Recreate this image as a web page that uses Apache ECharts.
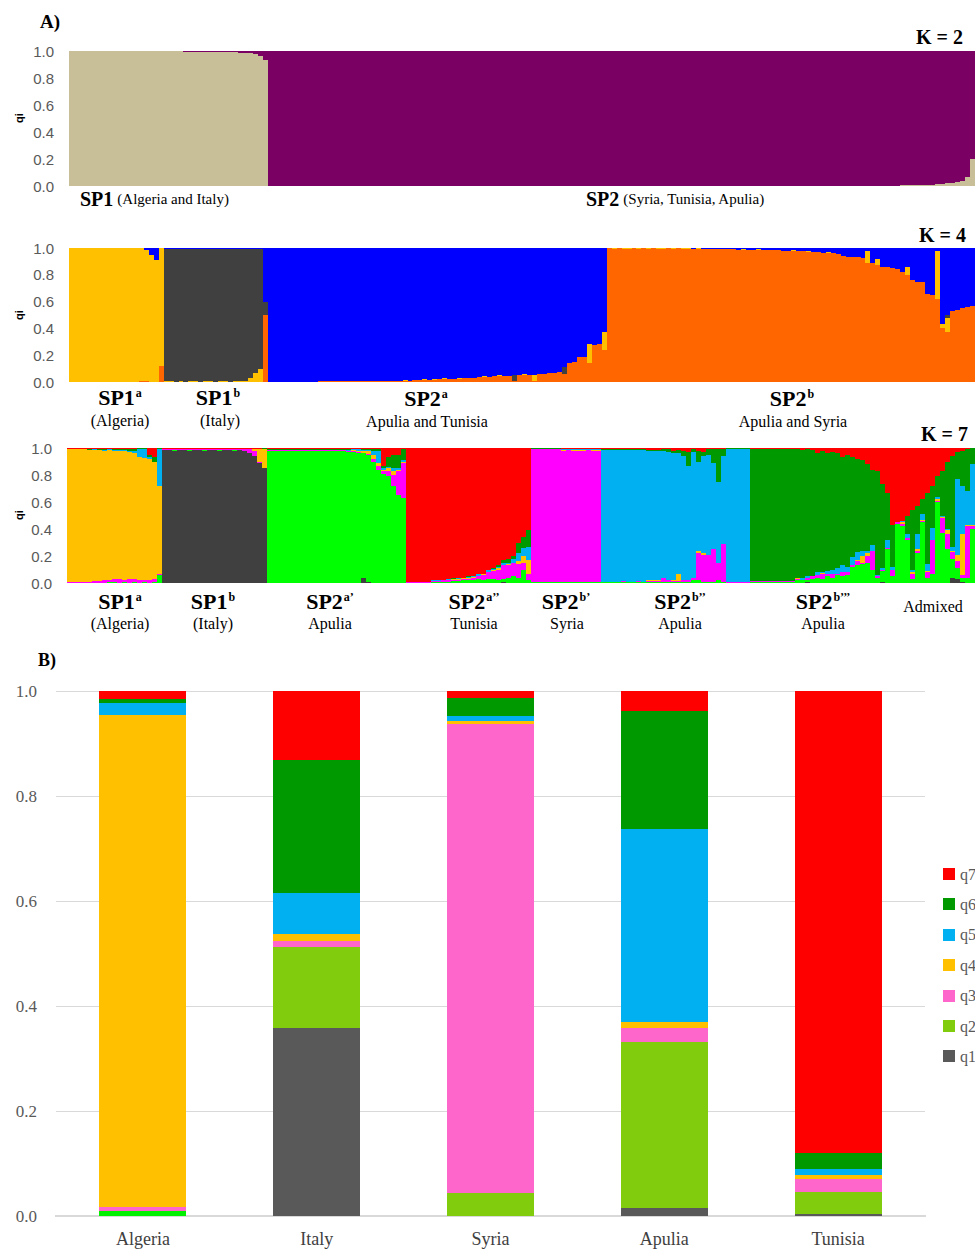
<!DOCTYPE html>
<html><head><meta charset="utf-8">
<script src="https://cdn.jsdelivr.net/npm/echarts@6/dist/echarts.min.js"></script>
<style>html,body{margin:0;padding:0;background:#fff}#c{width:975px;height:1250px}
#c svg path{shape-rendering:crispEdges}</style>
</head><body><div id="c"></div>
<script>
// ---------------- K = 2 (per individual q: [tan SP1, purple SP2]) ----------------
const k2Sp1Tan = [1,1,1,1,1,1,1,1,1,1, 1,1,1,1,1,1,1,1,1,1,
  1,0.997,0.997,0.996,0.996,0.995,0.995,0.994,0.994,0.993,
  0.992,0.992,0.991,0.99,0.988,0.985,0.982,0.975,0.962,0.935];
const k2Sp1Purple = [0,0,0,0,0,0,0,0,0,0, 0,0,0,0,0,0,0,0,0,0,
  0,0.003,0.003,0.004,0.004,0.005,0.005,0.006,0.006,0.007,
  0.008,0.008,0.009,0.01,0.012,0.015,0.018,0.025,0.038,0.065];
const k2Sp2Tan = [0,0,0,0,0,0,0,0,0,0, 0,0,0,0,0,0,0,0,0,0,
  0,0,0,0,0,0,0,0,0,0, 0,0,0,0,0,0,0,0,0,0,
  0,0,0,0,0,0,0,0,0,0, 0,0,0,0,0,0,0,0,0,0,
  0,0,0,0,0,0,0,0,0,0, 0,0,0,0,0,0,0,0,0,0,
  0,0,0,0,0,0,0,0,0,0, 0,0,0,0,0,0,0,0,0,0,
  0,0,0,0,0,0,0,0,0,0, 0,0,0,0,0,0,0,0,0,0,
  0,0,0,0,0,0,0,
  0.004,0.005,0.005,0.006,0.006,0.007,0.008,0.015,0.018,0.022,0.025,0.03,0.035,0.07,0.2];
const k2Sp2Purple = [1,1,1,1,1,1,1,1,1,1, 1,1,1,1,1,1,1,1,1,1,
  1,1,1,1,1,1,1,1,1,1, 1,1,1,1,1,1,1,1,1,1,
  1,1,1,1,1,1,1,1,1,1, 1,1,1,1,1,1,1,1,1,1,
  1,1,1,1,1,1,1,1,1,1, 1,1,1,1,1,1,1,1,1,1,
  1,1,1,1,1,1,1,1,1,1, 1,1,1,1,1,1,1,1,1,1,
  1,1,1,1,1,1,1,1,1,1, 1,1,1,1,1,1,1,1,1,1,
  1,1,1,1,1,1,1,
  0.996,0.995,0.995,0.994,0.994,0.993,0.992,0.985,0.982,0.978,0.975,0.97,0.965,0.93,0.8];

// ---------------- K = 4 rows: [orange, yellow, darkgrey, blue] ----------------
const k4Algeria = [
  [0,1,0,0],[0,1,0,0],[0,1,0,0],[0,1,0,0],[0,1,0,0],[0,1,0,0],[0,1,0,0],
  [0,1,0,0],[0,1,0,0],[0,1,0,0],[0,1,0,0],[0,1,0,0],[0,1,0,0],[0,1,0,0],
  [0.01,0.99,0,0],[0.01,0.975,0,0.015],[0,0.95,0,0.05],[0,0.91,0,0.09],[0.12,0.88,0,0]];
const k4Italy = [
  [0,0.005,0.99,0.005],[0,0.005,0.99,0.005],[0,0,0.995,0.005],[0,0.005,0.99,0.005],
  [0,0,0.995,0.005],[0,0.005,0.99,0.005],[0,0.005,0.99,0.005],[0,0,0.995,0.005],
  [0,0.005,0.99,0.005],[0,0.005,0.99,0.005],[0,0,0.995,0.005],[0,0.005,0.99,0.005],
  [0,0.005,0.99,0.005],[0,0,0.995,0.005],[0,0.005,0.99,0.005],[0,0.005,0.99,0.005],
  [0,0.01,0.985,0.005],[0,0.03,0.965,0.005],[0,0.07,0.925,0.005],[0,0.1,0.895,0.005],
  [0.5,0,0.1,0.4]];
const k4Sp2a = [
  [0.003,0,0,0.997],[0.003,0,0,0.997],[0.003,0,0,0.997],[0.003,0,0,0.997],[0.003,0,0,0.997],
  [0.003,0,0,0.997],[0.003,0,0,0.997],[0.003,0,0,0.997],[0.003,0,0,0.997],[0.003,0,0,0.997],
  [0.004,0,0,0.996],[0.004,0,0,0.996],[0.004,0,0,0.996],[0.004,0,0,0.996],[0.005,0,0,0.995],
  [0.005,0,0,0.995],[0.005,0,0,0.995],[0.005,0,0,0.995],[0.005,0,0,0.995],
  [0.006,0,0,0.994],[0.006,0,0,0.994],[0.007,0,0,0.993],[0.007,0.003,0,0.99],[0.008,0,0,0.992],
  [0.008,0,0,0.992],[0.009,0,0,0.991],[0.01,0,0,0.99],[0.01,0.004,0,0.986],[0.011,0,0,0.989],
  [0.012,0,0,0.988],[0.013,0,0,0.987],[0.014,0.005,0,0.981],[0.015,0,0,0.985],[0.017,0.006,0,0.977],
  [0.02,0,0,0.98],[0.02,0.01,0,0.97],[0.022,0,0,0.978],[0.024,0,0,0.976],[0.025,0.008,0,0.967],
  [0.027,0,0,0.973],[0.03,0,0,0.97],[0.032,0,0,0.968],[0.035,0,0,0.965],[0.037,0.005,0,0.958],
  [0.04,0,0,0.96],[0.042,0,0,0.958],[0.044,0.006,0,0.95],[0.046,0,0,0.954],[0.048,0,0,0.952],
  [0.01,0,0.045,0.945],[0.05,0,0,0.95],[0.052,0.006,0,0.942],[0.054,0,0,0.946],[0.005,0.05,0,0.945],
  [0.057,0,0,0.943],[0.062,0,0,0.938],[0.066,0,0,0.934],[0.07,0,0,0.93],[0.075,0,0,0.925],
  [0.06,0,0.05,0.89],[0.14,0,0,0.86],[0.15,0,0,0.85],[0.185,0,0,0.815],[0.19,0,0,0.81],
  [0.14,0.14,0,0.72],[0.275,0,0,0.725],[0.28,0,0,0.72],[0.24,0.135,0,0.625]];
const k4Sp2b = [
  [0.997,0,0,0.003],[0.995,0.002,0,0.003],[0.997,0,0,0.003],[0.995,0.002,0,0.003],[0.993,0.004,0,0.003],
  [0.997,0,0,0.003],[0.995,0.002,0,0.003],[0.997,0,0,0.003],[0.995,0.002,0,0.003],[0.997,0,0,0.003],
  [0.995,0.002,0,0.003],[0.993,0.004,0,0.003],[0.997,0,0,0.003],[0.995,0.002,0,0.003],[0.997,0,0,0.003],
  [0.995,0.002,0,0.003],[0.993,0.004,0,0.003],[0.995,0,0,0.005],[0.995,0.002,0,0.003],[0.994,0,0,0.006],
  [0.993,0.003,0,0.004],[0.993,0,0,0.007],[0.992,0,0,0.008],
  [0.99,0,0,0.01],[0.99,0.004,0,0.006],[0.989,0,0,0.011],[0.988,0,0,0.012],[0.988,0.004,0,0.008],
  [0.987,0,0,0.013],[0.986,0,0,0.014],[0.985,0.005,0,0.01],[0.985,0,0,0.015],[0.984,0,0,0.016],
  [0.983,0.004,0,0.013],[0.982,0,0,0.018],[0.98,0,0,0.02],
  [0.978,0,0,0.022],[0.977,0.005,0,0.018],[0.976,0,0,0.024],[0.975,0,0,0.025],[0.973,0.006,0,0.021],
  [0.972,0,0,0.028],[0.97,0,0,0.03],
  [0.965,0,0,0.035],[0.962,0.005,0,0.033],[0.96,0,0,0.04],[0.955,0,0,0.045],
  [0.94,0,0,0.06],[0.935,0,0,0.065],[0.93,0,0,0.07],[0.93,0.005,0,0.065],[0.925,0,0,0.075],
  [0.89,0.09,0,0.02],[0.89,0,0,0.11],[0.87,0.05,0,0.08],
  [0.86,0,0,0.14],[0.855,0,0,0.145],[0.85,0,0,0.15],[0.845,0,0,0.155],
  [0.82,0,0,0.18],[0.8,0.06,0,0.14],
  [0.76,0,0,0.24],[0.75,0,0,0.25],[0.745,0,0,0.255],
  [0.66,0,0,0.34],[0.65,0,0,0.35],
  [0.62,0.36,0,0.02],[0.4,0.03,0,0.57],[0.37,0.11,0.02,0.5],
  [0.53,0,0,0.47],[0.54,0,0,0.46],[0.55,0,0,0.45],[0.56,0,0,0.44],[0.565,0,0,0.435]];

// ---------------- K = 7 rows: [q1 grey, q2 green, q3 magenta, q4 yellow, q5 blue, q6 dark green, q7 red] ----------------
const k7Algeria = [
  [0,0,0.005,0.985,0,0.005,0.005],[0,0,0.005,0.985,0,0.005,0.005],[0,0.003,0.005,0.982,0,0.005,0.005],
  [0,0,0.005,0.985,0.002,0.003,0.005],[0,0,0.01,0.975,0,0.01,0.005],[0,0.003,0.01,0.972,0.005,0.005,0.005],
  [0,0,0.015,0.97,0,0.01,0.005],[0,0,0.02,0.96,0.005,0.01,0.005],[0,0.005,0.02,0.96,0.005,0.005,0.005],
  [0,0.005,0.025,0.95,0.005,0.01,0.005],[0,0,0.03,0.945,0.01,0.01,0.005],[0,0.005,0.02,0.95,0.01,0.01,0.005],
  [0,0,0.03,0.94,0.01,0.015,0.005],[0,0.005,0.025,0.93,0.02,0.015,0.005],[0,0,0.02,0.91,0.06,0.01,0],
  [0,0.005,0.02,0.9,0.07,0.005,0],[0,0,0.02,0.9,0.01,0.02,0.05],[0,0.01,0.02,0.87,0,0.03,0.07],
  [0,0.06,0.01,0.65,0.27,0.01,0]];
const k7Italy = [
  [0.985,0,0.005,0,0,0.005,0.005],[0.985,0,0.005,0,0,0.005,0.005],[0.98,0.005,0.005,0,0,0.005,0.005],
  [0.985,0,0.005,0,0,0.005,0.005],[0.985,0,0.005,0,0,0.005,0.005],[0.98,0.005,0.005,0,0,0.005,0.005],
  [0.985,0,0.005,0,0,0.005,0.005],[0.985,0,0.005,0,0,0.005,0.005],[0.98,0.005,0.005,0,0,0.005,0.005],
  [0.985,0,0.005,0,0,0.005,0.005],[0.985,0,0.005,0,0,0.005,0.005],[0.98,0.005,0.005,0,0,0.005,0.005],
  [0.985,0,0.005,0,0,0.005,0.005],[0.985,0,0.005,0,0,0.005,0.005],[0.98,0.005,0.005,0,0,0.005,0.005],
  [0.985,0,0.005,0,0,0.005,0.005],[0.98,0,0.01,0,0,0.005,0.005],[0.965,0,0.025,0,0,0.005,0.005],
  [0.94,0,0.04,0.01,0,0.005,0.005],[0.89,0,0.01,0.09,0,0.005,0.005],[0.85,0,0.005,0.14,0,0.005,0]];
const k7Sp2a1 = [
  [0,0.98,0.005,0,0,0.005,0.01],[0,0.98,0.005,0,0,0.005,0.01],[0,0.98,0.005,0,0,0.005,0.01],
  [0,0.98,0.005,0,0,0.005,0.01],[0,0.98,0.005,0,0,0.005,0.01],[0,0.98,0.005,0,0,0.005,0.01],
  [0,0.98,0.005,0,0,0.005,0.01],[0,0.98,0.005,0,0,0.005,0.01],[0,0.98,0.005,0,0,0.005,0.01],
  [0,0.98,0.005,0,0,0.005,0.01],[0,0.98,0.005,0,0,0.005,0.01],[0,0.98,0.005,0,0,0.005,0.01],
  [0,0.98,0.005,0,0,0.005,0.01],[0,0.98,0.005,0,0,0.005,0.01],[0,0.98,0.005,0,0,0.005,0.01],
  [0,0.98,0.005,0,0,0.005,0.01],
  [0,0.97,0.005,0.005,0.005,0.005,0.01],[0,0.97,0.01,0.005,0.005,0,0.01],[0,0.965,0.005,0.01,0.01,0,0.01],
  [0.04,0.92,0.005,0.01,0.01,0.005,0.01],[0.01,0.935,0.01,0.02,0.01,0.005,0.01],[0,0.9,0.02,0.03,0.03,0.01,0.01],
  [0,0.84,0.03,0.02,0.09,0.01,0.01],[0,0.81,0.02,0.01,0.01,0.02,0.13],[0,0.79,0.04,0.02,0.01,0.07,0.07],
  [0,0.72,0.08,0.03,0.02,0.1,0.05],[0,0.65,0.18,0.01,0.01,0.1,0.05],[0,0.63,0.26,0.01,0.01,0.08,0.01]];
const k7Sp2a2 = [
  [0,0.003,0.002,0,0,0,0.995],[0,0.003,0.002,0,0,0,0.995],[0,0.003,0.002,0,0,0,0.995],
  [0,0.003,0.002,0,0,0,0.995],[0,0.003,0.002,0,0,0,0.995],
  [0,0.008,0.007,0.003,0.002,0,0.98],[0,0.01,0.008,0,0.002,0,0.98],[0,0.01,0.01,0.003,0.002,0,0.975],
  [0,0.01,0.012,0.003,0.005,0,0.97],[0,0.012,0.01,0.005,0.005,0.003,0.965],[0,0.015,0.01,0.005,0.005,0,0.965],
  [0,0.02,0.01,0.005,0.005,0,0.96],[0,0.02,0.01,0.005,0.01,0.005,0.95],[0,0.02,0.02,0.005,0.01,0,0.945],
  [0,0.03,0.02,0,0.02,0,0.93],[0,0.02,0.04,0.005,0.005,0,0.93],[0,0.03,0.05,0,0.02,0,0.9],
  [0,0.03,0.06,0.005,0.01,0.005,0.89],[0,0.02,0.08,0.01,0.01,0.01,0.87],[0.01,0.02,0.1,0,0.02,0.02,0.83],
  [0,0.04,0.09,0.01,0.01,0.03,0.82],[0,0.05,0.1,0,0.03,0.02,0.8],[0,0.04,0.1,0.02,0.06,0.08,0.7],
  [0,0.1,0.05,0.05,0.06,0.08,0.66],[0,0.02,0.05,0.1,0.1,0.12,0.61]];
const k7Syria = [
  [0,0.005,0.985,0.003,0.002,0.002,0.003],[0,0.005,0.985,0.003,0.002,0.002,0.003],[0,0.005,0.985,0.003,0.002,0.002,0.003],
  [0,0.005,0.985,0.003,0.002,0.002,0.003],[0,0.005,0.985,0.003,0.002,0.002,0.003],[0,0.005,0.985,0.003,0.002,0.002,0.003],
  [0,0.007,0.97,0.005,0.008,0.005,0.005],[0,0.007,0.975,0.005,0.003,0.005,0.005],[0,0.007,0.97,0.005,0.008,0.005,0.005],
  [0,0.01,0.97,0.005,0.005,0.005,0.005],[0,0.007,0.97,0.005,0.008,0.005,0.005],[0,0.007,0.975,0.005,0.003,0.005,0.005],
  [0,0.007,0.97,0.005,0.008,0.005,0.005],[0,0.01,0.97,0.005,0.005,0.005,0.005]];
const k7Sp2b1 = [
  [0,0.005,0.005,0,0.975,0.01,0.005],[0,0.005,0.005,0,0.975,0.01,0.005],[0,0.005,0.005,0,0.975,0.01,0.005],
  [0,0.005,0.005,0,0.975,0.01,0.005],[0,0.01,0.005,0,0.97,0.01,0.005],[0,0.005,0.005,0,0.975,0.01,0.005],
  [0,0.005,0.005,0,0.975,0.01,0.005],[0,0.005,0.01,0,0.97,0.01,0.005],[0,0.005,0.005,0,0.975,0.01,0.005],
  [0,0.01,0.005,0.005,0.96,0.005,0.015],[0,0.01,0.005,0.005,0.96,0.005,0.015],[0,0.01,0.005,0.005,0.96,0.005,0.015],
  [0,0.01,0.03,0,0.94,0.01,0.01],[0,0.01,0.01,0,0.95,0.02,0.01],[0,0.01,0.005,0.005,0.94,0.02,0.02],
  [0,0.01,0.005,0.05,0.9,0.02,0.015],[0,0.01,0.01,0,0.92,0.04,0.02],[0,0.01,0.01,0,0.85,0.1,0.03],
  [0,0.02,0.02,0,0.93,0.02,0.01],[0,0.02,0.2,0.02,0.66,0.08,0.02],[0,0.01,0.2,0.01,0.72,0.03,0.03],
  [0,0.01,0.2,0,0.74,0.04,0.01],[0,0.01,0.24,0,0.64,0.1,0.01],[0,0.02,0.13,0,0.6,0.24,0.01],
  [0,0.01,0.28,0,0.65,0.05,0.01],
  [0,0.003,0.003,0,0.99,0.002,0.002],[0,0.003,0.003,0,0.99,0.002,0.002],[0,0.003,0.003,0,0.99,0.002,0.002],
  [0,0.003,0.003,0,0.99,0.002,0.002],[0,0.003,0.003,0,0.99,0.002,0.002]];
const k7Sp2b2 = [
  [0,0.008,0.004,0,0.003,0.98,0.005],[0,0.008,0.004,0,0.003,0.98,0.005],[0,0.008,0.004,0,0.003,0.98,0.005],
  [0,0.008,0.004,0,0.003,0.98,0.005],[0,0.008,0.004,0,0.003,0.98,0.005],[0,0.008,0.004,0,0.003,0.98,0.005],
  [0,0.008,0.004,0,0.003,0.98,0.005],[0,0.008,0.004,0,0.003,0.98,0.005],[0,0.008,0.004,0,0.003,0.98,0.005],
  [0,0.02,0.01,0.005,0.005,0.95,0.01],[0,0.02,0.005,0,0.01,0.95,0.015],[0.005,0.02,0.01,0,0.02,0.935,0.01],
  [0,0.03,0.02,0,0.005,0.93,0.015],[0,0.04,0.02,0,0.02,0.88,0.04],[0,0.03,0.04,0.005,0.005,0.9,0.02],
  [0,0.05,0.02,0,0.02,0.87,0.04],[0,0.04,0.03,0,0.03,0.87,0.03],[0,0.06,0.01,0,0.04,0.85,0.04],
  [0,0.05,0.03,0,0.05,0.8,0.07],[0,0.06,0.02,0,0.04,0.83,0.05],[0,0.12,0.01,0,0.06,0.74,0.07],
  [0,0.13,0.03,0.01,0.06,0.69,0.08],[0,0.14,0.01,0.05,0.04,0.67,0.09],[0,0.15,0.05,0.02,0.02,0.64,0.12],
  [0,0.1,0.14,0,0.04,0.56,0.16],[0,0.04,0.01,0,0.01,0.77,0.17],[0.01,0.08,0.01,0,0.01,0.62,0.27],
  [0,0.25,0.01,0,0.06,0.35,0.33]];
const k7Admixed = [
  [0,0.05,0.05,0,0.02,0.31,0.57],[0,0.44,0.01,0,0,0,0.55],[0,0.42,0.02,0.01,0.01,0,0.54],
  [0,0.32,0.01,0,0.03,0.14,0.5],[0,0.03,0.04,0.01,0.02,0.44,0.46],[0,0.22,0.02,0.01,0.11,0.21,0.43],
  [0,0.45,0.01,0.01,0.04,0.11,0.38],[0,0.04,0.04,0.01,0.05,0.53,0.33],[0,0.07,0.25,0,0.09,0.31,0.28],
  [0,0.6,0.01,0.01,0.02,0.15,0.21],[0,0.37,0.11,0.01,0.01,0.33,0.17],[0,0.25,0.11,0.03,0.01,0.5,0.1],
  [0.04,0.14,0.05,0.01,0.03,0.67,0.06],[0.03,0.08,0.05,0.05,0.56,0.2,0.03],[0.01,0.03,0.02,0.3,0.36,0.26,0.02],
  [0,0.04,0.38,0.01,0.25,0.31,0.01],[0,0.4,0.02,0.01,0.45,0.12,0]];

// ---------------- Part B ----------------
const countries = ['Algeria','Italy','Syria','Apulia','Tunisia'];
const q1 = [0, 0.359, 0, 0.015, 0.004];
const q2 = [0.009, 0.153, 0.044, 0.317, 0.041];
const q3 = [0.008, 0.012, 0.894, 0.027, 0.026];
const q4 = [0.937, 0.013, 0.005, 0.011, 0.007];
const q5 = [0.024, 0.079, 0.009, 0.367, 0.011];
const q6 = [0.007, 0.253, 0.035, 0.225, 0.031];
const q7 = [0.015, 0.131, 0.013, 0.038, 0.88];
const yTicks = [0, 0.2, 0.4, 0.6, 0.8, 1.0];

// ---------------- colours ----------------
const K2_COL = ['#C8BE98', '#7A0064'];
const K4_COL = ['#FF6600', '#FFC000', '#404040', '#0000FF'];
const K7_COL = ['#404040', '#00FF00', '#FF00FF', '#FFC000', '#00B0F0', '#009900', '#FF0000'];
const B_COL = ['#595959', '#82CC0E', '#FF66CC', '#FFC000', '#00B0F0', '#009900', '#FF0000'];

const SERIF = "'Liberation Serif', 'Times New Roman', serif";
const SANS = "'Liberation Sans', Arial, sans-serif";

const k2Tan = k2Sp1Tan.concat(k2Sp2Tan);
const k2Pur = k2Sp1Purple.concat(k2Sp2Purple);
const k4Rows = k4Algeria.concat(k4Italy, k4Sp2a, k4Sp2b);
const k7Rows = k7Algeria.concat(k7Italy, k7Sp2a1, k7Sp2a2, k7Syria, k7Sp2b1, k7Sp2b2, k7Admixed);
const idx = k4Rows.map((r, i) => String(i));

// zero shares are left out ('-') so no empty segment is drawn
function stackSeries(cols, colors, ai, stack, prefix) {
  return cols.map((d, j) => ({
    type: 'bar', name: prefix + j, xAxisIndex: ai, yAxisIndex: ai, stack: stack,
    barCategoryGap: '0%', barWidth: '100%', silent: true, animation: false,
    itemStyle: { color: colors[j] },
    data: d.map(v => (v > 0 ? v : '-'))
  }));
}
const k2Cols = [k2Tan, k2Pur];
const k4Cols = [0,1,2,3].map(j => k4Rows.map(r => r[j]));
const k7Cols = [0,1,2,3,4,5,6].map(j => k7Rows.map(r => r[j]));
const bCols = [q1, q2, q3, q4, q5, q6, q7];

const series = []
  .concat(stackSeries(k2Cols, K2_COL, 0, 'k2', 'k2_'))
  .concat(stackSeries(k4Cols, K4_COL, 1, 'k4', 'k4_'))
  .concat(stackSeries(k7Cols, K7_COL, 2, 'k7', 'k7_'))
  .concat(bCols.map((d, j) => ({
    type: 'bar', name: 'q' + (j + 1), xAxisIndex: 3, yAxisIndex: 3, stack: 'b',
    barWidth: '50%', animation: false, itemStyle: { color: B_COL[j] },
    // the Algeria q2 sliver is printed in a brighter green in the figure
    data: d.map((v, i) => (j === 1 && i === 0 ? { value: v, itemStyle: { color: '#00F000' } } : v))
  })));

const aY = i => ({
  gridIndex: i, type: 'value', min: 0, max: 1, interval: 0.2,
  axisLine: { show: false }, axisTick: { show: false }, splitLine: { show: false },
  axisLabel: { formatter: v => v.toFixed(1), color: '#595959', fontFamily: SANS, fontSize: 15, margin: 15 }
});
const aX = i => ({ gridIndex: i, type: 'category', data: idx, show: false, boundaryGap: true });

const RICH_BIG = {
  b: { fontFamily: SERIF, fontWeight: 'bold', fontSize: 22, fill: '#000', color: '#000' },
  s: { fontFamily: SERIF, fontWeight: 'bold', fontSize: 12, fill: '#000', color: '#000', verticalAlign: 'top', textVerticalAlign: 'top', padding: [1, 0, 0, 1] }
};
const RICH_K2 = {
  b: { fontFamily: SERIF, fontWeight: 'bold', fontSize: 20, fill: '#000', color: '#000' },
  r: { fontFamily: SERIF, fontSize: 15, fill: '#000', color: '#000' }
};
function T(x, y, text, o) {
  o = o || {};
  const al = o.align || 'center';
  return {
    type: 'text', x: x, y: y, rotation: o.rot || 0, silent: true, z: 100,
    style: {
      text: text, fill: o.color || '#000',
      fontFamily: o.font || SERIF, fontSize: o.size || 16, fontWeight: o.bold ? 'bold' : 'normal',
      align: al, textAlign: al, verticalAlign: 'middle', textVerticalAlign: 'middle',
      rich: o.rich
    }
  };
}

const graphics = [
  T(40, 21, 'A)', { align: 'left', bold: true, size: 19 }),
  T(963, 37, 'K = 2', { align: 'right', bold: true, size: 20 }),
  T(966, 235, 'K = 4', { align: 'right', bold: true, size: 20 }),
  T(968, 434, 'K = 7', { align: 'right', bold: true, size: 20 }),
  T(19, 118, 'qi', { rot: Math.PI / 2, bold: true, size: 11, font: SANS }),
  T(19, 315, 'qi', { rot: Math.PI / 2, bold: true, size: 11, font: SANS }),
  T(19, 515, 'qi', { rot: Math.PI / 2, bold: true, size: 11, font: SANS }),
  T(80, 199, '{b|SP1} {r|(Algeria and Italy)}', { align: 'left', rich: RICH_K2 }),
  T(586, 199, '{b|SP2} {r|(Syria, Tunisia, Apulia)}', { align: 'left', rich: RICH_K2 }),
  // K = 4 labels
  T(120, 397, '{b|SP1}{s|a}', { rich: RICH_BIG }),
  T(120, 420, '(Algeria)'),
  T(218, 397, '{b|SP1}{s|b}', { rich: RICH_BIG }),
  T(220, 420, '(Italy)'),
  T(426, 398, '{b|SP2}{s|a}', { rich: RICH_BIG }),
  T(427, 421, 'Apulia and Tunisia'),
  T(792, 398, '{b|SP2}{s|b}', { rich: RICH_BIG }),
  T(793, 421, 'Apulia and Syria'),
  // K = 7 labels
  T(120, 601, '{b|SP1}{s|a}', { rich: RICH_BIG }),
  T(120, 623, '(Algeria)'),
  T(213, 601, '{b|SP1}{s|b}', { rich: RICH_BIG }),
  T(213, 623, '(Italy)'),
  T(330, 601, '{b|SP2}{s|a\u2019}', { rich: RICH_BIG }),
  T(330, 623, 'Apulia'),
  T(474, 601, '{b|SP2}{s|a\u2019\u2019}', { rich: RICH_BIG }),
  T(474, 623, 'Tunisia'),
  T(566, 601, '{b|SP2}{s|b\u2019}', { rich: RICH_BIG }),
  T(567, 623, 'Syria'),
  T(680, 601, '{b|SP2}{s|b\u2019\u2019}', { rich: RICH_BIG }),
  T(680, 623, 'Apulia'),
  T(823, 601, '{b|SP2}{s|b\u2019\u2019\u2019}', { rich: RICH_BIG }),
  T(823, 623, 'Apulia'),
  T(933, 606, 'Admixed'),
  T(38, 660, 'B)', { align: 'left', bold: true, size: 18 })
];

const chart = echarts.init(document.getElementById('c'), null, { renderer: 'svg' });
chart.setOption({
  animation: false,
  backgroundColor: '#ffffff',
  grid: [
    { left: 69, top: 51, width: 906, height: 135, outerBoundsMode: 'none', containLabel: false },
    { left: 69, top: 248, width: 906, height: 134, outerBoundsMode: 'none', containLabel: false },
    { left: 67, top: 448, width: 908, height: 135, outerBoundsMode: 'none', containLabel: false },
    { left: 56, top: 691, width: 869, height: 525, outerBoundsMode: 'none', containLabel: false }
  ],
  xAxis: [aX(0), aX(1), aX(2), {
    gridIndex: 3, type: 'category', data: countries,
    axisLine: { lineStyle: { color: '#D9D9D9', width: 1.5 } }, axisTick: { show: false },
    axisLabel: { color: '#404040', fontFamily: SERIF, fontSize: 18, margin: 14 }
  }],
  yAxis: [aY(0), aY(1), aY(2), {
    gridIndex: 3, type: 'value', min: yTicks[0], max: yTicks[yTicks.length - 1], interval: 0.2,
    axisLine: { show: false }, axisTick: { show: false },
    splitLine: { lineStyle: { color: '#D9D9D9', width: 1 } },
    axisLabel: { formatter: v => v.toFixed(1), color: '#595959', fontFamily: SERIF, fontSize: 17, margin: 19 }
  }],
  legend: {
    data: ['q7','q6','q5','q4','q3','q2','q1'], orient: 'vertical', left: 938, top: 861,
    itemWidth: 12, itemHeight: 12, itemGap: 14.4, icon: 'rect', selectedMode: false,
    textStyle: { color: '#595959', fontFamily: SERIF, fontSize: 16, padding: 0 }
  },
  tooltip: { show: false },
  graphic: graphics,
  series: series
});
</script>
</body></html>
